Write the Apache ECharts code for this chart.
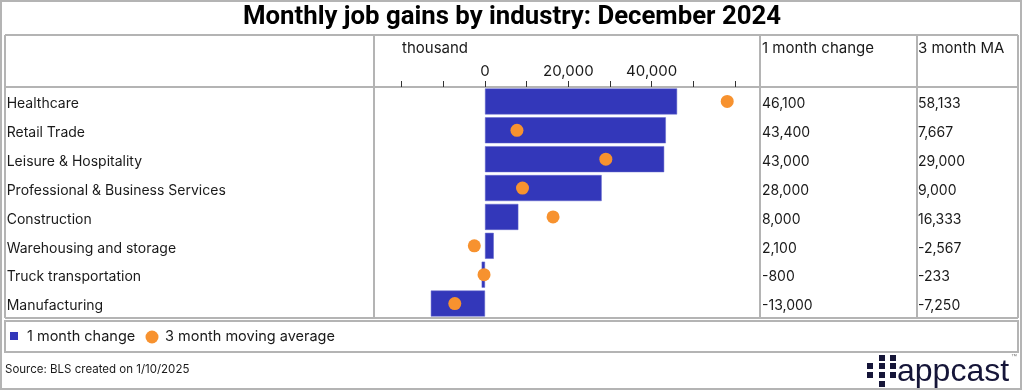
<!DOCTYPE html>
<html>
<head>
<meta charset="utf-8">
<script src="https://cdn.jsdelivr.net/npm/echarts@6/dist/echarts.min.js"></script>
<style>
html,body{margin:0;padding:0;background:#fff;}
#chart{width:1024px;height:391px;}
</style>
</head>
<body>
<div id="chart"></div>
<script>
const categories = ['Healthcare','Retail Trade','Leisure & Hospitality','Professional & Business Services','Construction','Warehousing and storage','Truck transportation','Manufacturing'];
const oneMonthChange = [46100, 43400, 43000, 28000, 8000, 2100, -800, -13000];
const threeMonthMA = [58133, 7667, 29000, 9000, 16333, -2567, -233, -7250];
const tickLabels = [0, 20000, 40000];

const FONT = 'Inter';
const TXT = '#1a1a1a';
const LINE = '#b4b4b4';
const BLUE = '#3337ba';
const ORANGE = '#f7922f';
const fmt = v => Number(v).toLocaleString('en-US');

const chart = echarts.init(document.getElementById('chart'));

function hline(x1,x2,y){return {type:'line',shape:{x1:x1,y1:y,x2:x2,y2:y},style:{stroke:LINE,lineWidth:2},silent:true};}
function vline(x,y1,y2){return {type:'line',shape:{x1:x,y1:y1,x2:x,y2:y2},style:{stroke:LINE,lineWidth:2},silent:true};}

const logoSquares = [[879,355],[890,355],[867,363],[879,363],[890,363],[867,372],[879,372],[890,372],[879,381]];

const graphics = [
  {type:'rect',shape:{x:1,y:1,width:1020,height:388},style:{fill:'none',stroke:LINE,lineWidth:2},silent:true},
  hline(5,1018,35), hline(5,1018,87), hline(5,1018,318),
  vline(5,35,318), vline(374,35,318), vline(760,35,318), vline(917,35,318), vline(1018,35,318),
  {type:'rect',shape:{x:5,y:321,width:1013,height:31},style:{fill:'none',stroke:LINE,lineWidth:2},silent:true},
  {type:'text',x:512,y:18,scaleX:1.03,originX:0,originY:0,style:{text:'Monthly job gains by industry: December 2024',font:'bold 25px Roboto',fill:'#000',align:'center',verticalAlign:'middle'}},
  {type:'text',x:402,y:48,style:{text:'thousand',font:'15px '+FONT,fill:TXT,verticalAlign:'middle'}},
  {type:'text',x:762,y:48,style:{text:'1 month change',font:'15px '+FONT,fill:TXT,verticalAlign:'middle'}},
  {type:'text',x:918,y:48,style:{text:'3 month MA',font:'15px '+FONT,fill:TXT,verticalAlign:'middle'}},
  {type:'rect',shape:{x:10,y:332,width:8,height:8},style:{fill:BLUE}},
  {type:'text',x:27,y:337,style:{text:'1 month change',font:'14.5px '+FONT,fill:TXT,verticalAlign:'middle'}},
  {type:'circle',shape:{cx:152,cy:337,r:6.5},style:{fill:ORANGE}},
  {type:'text',x:165,y:337,style:{text:'3 month moving average',font:'14.5px '+FONT,fill:TXT,verticalAlign:'middle'}},
  {type:'text',x:5,y:370,style:{text:'Source: BLS created on 1/10/2025',font:'11.5px '+FONT,fill:TXT,verticalAlign:'middle'}},
  {type:'text',x:897,y:372,style:{text:'appcast',font:'32px "Liberation Sans"',fill:'#151538',verticalAlign:'middle'}},
  {type:'text',x:1011,y:356,style:{text:'™',font:'6px "Liberation Sans"',fill:'#777',verticalAlign:'middle'}}
];
logoSquares.forEach(p=>graphics.push({type:'rect',shape:{x:p[0],y:p[1],width:6,height:6},style:{fill:'#151538'}}));

const rowLabel = {fontFamily:FONT,fontSize:14,color:TXT};
const hiddenAxis = {axisLine:{show:false},axisTick:{show:false},splitLine:{show:false}};

const option = {
  animation:false,
  backgroundColor:'#fff',
  grid:[
    {left:401.67,top:87,width:333.33,height:231,containLabel:false},
    {left:401.67,top:89.5,width:333.33,height:231,containLabel:false}
  ],
  xAxis:[
    {type:'value',gridIndex:0,position:'top',min:-20000,max:60000,interval:10000,
     axisLine:{show:false},
     axisTick:{show:true,length:6,lineStyle:{color:'#333',width:1}},
     splitLine:{show:false},
     axisLabel:{margin:8,fontFamily:FONT,fontSize:15,color:TXT,
       formatter:v=>tickLabels.indexOf(v)>=0?fmt(v):''}},
    Object.assign({type:'value',gridIndex:1,min:-20000,max:60000,axisLabel:{show:false}},hiddenAxis)
  ],
  yAxis:[
    Object.assign({type:'category',gridIndex:0,data:categories,inverse:true,axisLabel:{show:false}},hiddenAxis),
    Object.assign({type:'category',gridIndex:1,data:categories,inverse:true,position:'left',
     axisLabel:Object.assign({align:'left',margin:395},rowLabel)},hiddenAxis),
    Object.assign({type:'category',gridIndex:1,data:categories,inverse:true,position:'right',
     axisLabel:Object.assign({align:'left',margin:27,formatter:(v,i)=>fmt(oneMonthChange[i])},rowLabel)},hiddenAxis),
    Object.assign({type:'category',gridIndex:1,data:categories,inverse:true,position:'right',offset:157,
     axisLabel:Object.assign({align:'left',margin:26,formatter:(v,i)=>fmt(threeMonthMA[i])},rowLabel)},hiddenAxis)
  ],
  series:[
    {name:'1 month change',type:'bar',xAxisIndex:0,yAxisIndex:0,data:oneMonthChange,barCategoryGap:'10%',
     itemStyle:{color:BLUE,borderColor:'#6366cc',borderWidth:0.5}},
    {name:'3 month moving average',type:'scatter',xAxisIndex:0,yAxisIndex:0,symbolSize:13,
     data:threeMonthMA.map((v,i)=>[v,categories[i]]),itemStyle:{color:ORANGE,opacity:1},z:5}
  ],
  graphic:graphics
};
chart.setOption(option);
</script>
</body>
</html>
